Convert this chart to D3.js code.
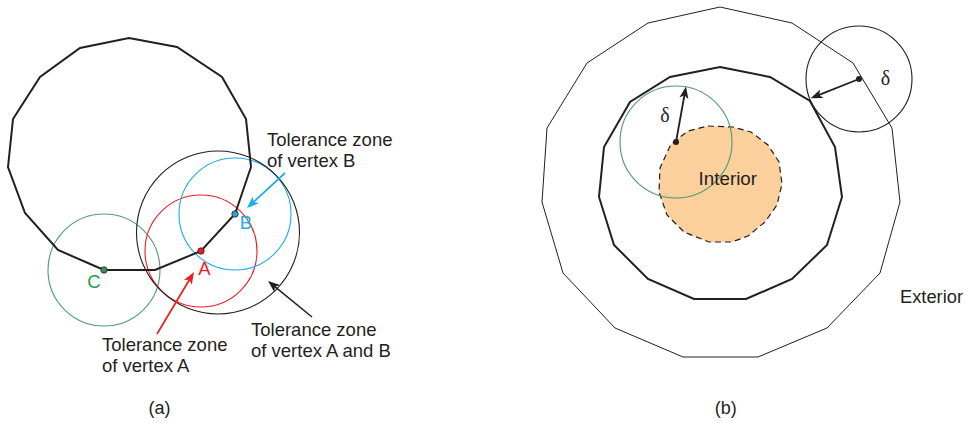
<!DOCTYPE html>
<html>
<head>
<meta charset="utf-8">
<script src="https://cdn.jsdelivr.net/npm/d3@7"></script>
<style>
  html, body { margin: 0; padding: 0; background: #fff; }
  svg { display: block; }
</style>
</head>
<body>
<svg id="fig" width="967" height="423"></svg>
<script>
// ---- Panel (a): a closed boundary with vertices A, B, C and their tolerance zones (local units, y up)
const polygonA = [
  [-26, -110], [-72, -90], [-105, -53], [-122, -7], [-117, 41], [-90, 83], [-50, 112],
  [-1, 122], [47, 113], [92, 83], [116, 41], [121, -7], [105, -54], [71, -91], [25, -110]
];
const vertexNames = ["A", "B", "C"];
const vertexPoints = [[71, -91], [105, -54], [-26, -110]];
const toleranceRadius = 56;
const combinedRadius = 81.5;
const zoneLabels = [
  ["Tolerance zone", "of vertex B"],
  ["Tolerance zone", "of vertex A"],
  ["Tolerance zone", "of vertex A and B"]
];
// pointer arrows for the three zone labels: [start, tip]
const zoneArrows = [
  [[155, -13], [117, -48]],
  [[27, -174], [64, -112]],
  [[182, -157], [138, -121]]
];

// ---- Panel (b): boundary, its delta-offset, and the interior region (local units, y up)
const outerBoundary = [
  [0, 177], [72, 161], [133, 121], [172, 56], [180, -18], [160, -89], [107, -144], [38, -173],
  [-37, -173], [-105, -144], [-157, -89], [-178, -18], [-173, 56], [-133, 121], [-72, 161]
];
const innerBoundary = [
  [0, 117], [50, 107], [90, 83], [115, 37], [122, -13], [107, -61], [72, -95], [26, -115],
  [-26, -115], [-72, -95], [-106, -61], [-121, -13], [-116, 37], [-90, 82], [-50, 107]
];
const interiorRegion = [
  [-12, 58], [13, 57], [31, 52], [48, 39], [59, 22], [62, 0], [57, -21], [45, -38], [28, -52],
  [12, -58], [-11, -58], [-36, -48], [-53, -31], [-61, -8], [-60, 16], [-49, 40], [-32, 53]
];
const deltaCenters = [[-44, 42], [139, 105]];
const deltaRadii = [56, 53];
const deltaTips = [[-34, 97.5], [90.7, 85.7]];
const regionNames = ["Interior", "Exterior"];
const captions = ["(a)", "(b)"];

// ---- Scales: each panel's local frame onto the page
const W = 967, H = 423;
const xA = d3.scaleLinear().domain([-130, 837]).range([0, W]);
const yA = d3.scaleLinear().domain([160, -263]).range([0, H]);
const xB = d3.scaleLinear().domain([-720, 247]).range([0, W]);
const yB = d3.scaleLinear().domain([184, -239]).range([0, H]);

const INK = "#231f20";
const RED = "#ed1c24";
const BLUE = "#1cace6";
const GREEN = "#4c9c6c";
const GREEN_TEXT = "#22a04e";
const ORANGE = "#fcd09c";
const FONT = "'Liberation Sans', Arial, Helvetica, sans-serif";
const SERIF = "'Liberation Serif', 'Times New Roman', serif";

const svg = d3.select("#fig");
svg.append("rect").attr("width", W).attr("height", H).attr("fill", "#fff");

function closedPath(points, xs, ys) {
  return d3.line().x(d => xs(d[0])).y(d => ys(d[1])).curve(d3.curveLinearClosed)(points);
}

function arrow(g, from, to, xs, ys, color, width) {
  const x0 = xs(from[0]), y0 = ys(from[1]);
  const x1 = xs(to[0]), y1 = ys(to[1]);
  const dx = x1 - x0, dy = y1 - y0;
  const len = Math.hypot(dx, dy);
  const ux = dx / len, uy = dy / len;
  const headLen = 12, headHalf = 4.6;
  const bx = x1 - ux * headLen, by = y1 - uy * headLen;
  g.append("line")
    .attr("x1", x0).attr("y1", y0)
    .attr("x2", x1 - ux * headLen * 0.7).attr("y2", y1 - uy * headLen * 0.7)
    .attr("stroke", color).attr("stroke-width", width);
  g.append("path")
    .attr("d", `M${x1},${y1}L${bx - uy * headHalf},${by + ux * headHalf}` +
               `L${x1 - ux * headLen * 0.75},${y1 - uy * headLen * 0.75}` +
               `L${bx + uy * headHalf},${by - ux * headHalf}Z`)
    .attr("fill", color);
}

function multiline(g, lines, x, y, lineH) {
  const t = g.append("text")
    .attr("x", x).attr("y", y)
    .attr("font-family", FONT).attr("font-size", 18.5).attr("fill", INK);
  lines.forEach((s, i) => {
    t.append("tspan").attr("x", x).attr("dy", i === 0 ? 0 : lineH).text(s);
  });
}

// ================= Panel (a) =================
const ga = svg.append("g");
const rA = v => xA(v) - xA(0);
const zoneColors = { A: RED, B: BLUE, C: GREEN };
const nameColors = { A: RED, B: BLUE, C: GREEN_TEXT };
const dotColors = { A: RED, B: "#29a8dc", C: "#3f8f5c" };

// individual tolerance zones (C, A, B)
["C", "A", "B"].forEach(n => {
  const p = vertexPoints[vertexNames.indexOf(n)];
  ga.append("circle")
    .attr("cx", xA(p[0])).attr("cy", yA(p[1])).attr("r", rA(toleranceRadius))
    .attr("fill", "none").attr("stroke", zoneColors[n]).attr("stroke-width", 1.1);
});

// combined zone of A and B, centred between them
const pA = vertexPoints[0], pB = vertexPoints[1];
const mid = [(pA[0] + pB[0]) / 2, (pA[1] + pB[1]) / 2];
ga.append("circle")
  .attr("cx", xA(mid[0])).attr("cy", yA(mid[1])).attr("r", rA(combinedRadius))
  .attr("fill", "none").attr("stroke", INK).attr("stroke-width", 1.1);

// boundary polygon
ga.append("path")
  .attr("d", closedPath(polygonA, xA, yA))
  .attr("fill", "none").attr("stroke", INK).attr("stroke-width", 2)
  .attr("stroke-linejoin", "miter");

// arrows to the zones
arrow(ga, zoneArrows[0][0], zoneArrows[0][1], xA, yA, BLUE, 1.7);
arrow(ga, zoneArrows[1][0], zoneArrows[1][1], xA, yA, RED, 1.7);
arrow(ga, zoneArrows[2][0], zoneArrows[2][1], xA, yA, INK, 1.5);

// vertex dots and names
const nameOffsets = { A: [3.5, -24], B: [11, -15], C: [-10, -17.5] };
vertexNames.forEach((n, i) => {
  const p = vertexPoints[i];
  ga.append("circle")
    .attr("cx", xA(p[0])).attr("cy", yA(p[1])).attr("r", 3.2)
    .attr("fill", dotColors[n]).attr("stroke", INK).attr("stroke-width", 0.8);
  ga.append("text")
    .attr("x", xA(p[0] + nameOffsets[n][0])).attr("y", yA(p[1] + nameOffsets[n][1]))
    .attr("text-anchor", "middle")
    .attr("font-family", FONT).attr("font-size", 18.5)
    .attr("fill", nameColors[n]).text(n);
});

// zone labels
multiline(ga, zoneLabels[0], xA(137), yA(14), 21);
multiline(ga, zoneLabels[1], xA(-28), yA(-191), 21);
multiline(ga, zoneLabels[2], xA(121), yA(-176), 21);

ga.append("text")
  .attr("x", xA(29.5)).attr("y", yA(-254)).attr("text-anchor", "middle")
  .attr("font-family", FONT).attr("font-size", 18).attr("fill", INK)
  .text(captions[0]);

// ================= Panel (b) =================
const gb = svg.append("g");
const rB = v => xB(v) - xB(0);

gb.append("path")
  .attr("d", closedPath(outerBoundary, xB, yB))
  .attr("fill", "none").attr("stroke", INK).attr("stroke-width", 1);

gb.append("path")
  .attr("d", closedPath(innerBoundary, xB, yB))
  .attr("fill", "none").attr("stroke", INK).attr("stroke-width", 2);

gb.append("path")
  .attr("d", closedPath(interiorRegion, xB, yB))
  .attr("fill", ORANGE).attr("stroke", INK).attr("stroke-width", 1.2)
  .attr("stroke-dasharray", "6,4");

// delta balls
deltaCenters.forEach((c, i) => {
  gb.append("circle")
    .attr("cx", xB(c[0])).attr("cy", yB(c[1])).attr("r", rB(deltaRadii[i]))
    .attr("fill", "none").attr("stroke", i === 0 ? GREEN : INK).attr("stroke-width", 1.1);
});

gb.append("text")
  .attr("x", xB(7.8)).attr("y", yB(-1)).attr("text-anchor", "middle")
  .attr("font-family", FONT).attr("font-size", 18.8).attr("fill", INK)
  .text(regionNames[0]);

deltaCenters.forEach((c, i) => {
  arrow(gb, c, deltaTips[i], xB, yB, INK, 1.8);
  gb.append("circle")
    .attr("cx", xB(c[0])).attr("cy", yB(c[1])).attr("r", 3)
    .attr("fill", INK);
});

// delta labels
[[-55, 62.3], [165.5, 99]].forEach(p => {
  gb.append("text")
    .attr("x", xB(p[0])).attr("y", yB(p[1])).attr("text-anchor", "middle")
    .attr("font-family", SERIF).attr("font-size", 20).attr("fill", INK)
    .text("δ");
});

gb.append("text")
  .attr("x", xB(180)).attr("y", yB(-118.7))
  .attr("font-family", FONT).attr("font-size", 18.3).attr("fill", INK)
  .text(regionNames[1]);

gb.append("text")
  .attr("x", xB(5.7)).attr("y", yB(-230)).attr("text-anchor", "middle")
  .attr("font-family", FONT).attr("font-size", 18).attr("fill", INK)
  .text(captions[1]);
</script>
</body>
</html>
